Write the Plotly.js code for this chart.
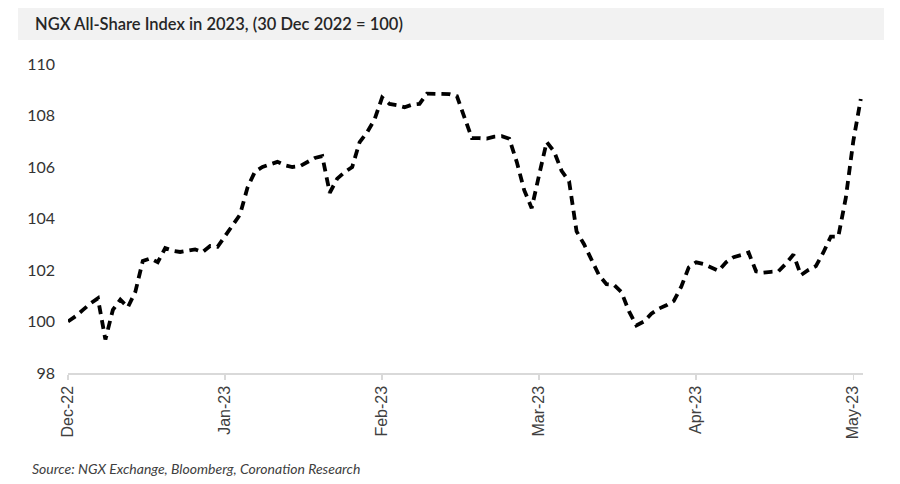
<!DOCTYPE html>
<html>
<head>
<meta charset="utf-8">
<script src="https://cdn.plot.ly/plotly-3.0.1.min.js"></script>
<style>
  html, body { margin: 0; padding: 0; background: #ffffff; }
  #chart { width: 900px; height: 484px; }
</style>
</head>
<body>
<div id="chart"></div>
<script>
// NGX All-Share Index rebased, one value per trading day from 30 Dec 2022
const indexValues = [
  100.0, 100.2, 100.45, 100.7, 100.9, 99.3, 100.45, 100.85, 100.55, 101.15,
  102.35, 102.45, 102.3, 102.85, 102.75, 102.7, 102.75, 102.8, 102.7, 102.93,
  102.9, 103.3, 103.7, 104.15, 105.2, 105.82, 106.0, 106.1, 106.2, 106.07,
  106.0, 106.03, 106.2, 106.35, 106.42, 105.0, 105.55, 105.8, 106.0, 106.97,
  107.35, 107.85, 108.7, 108.45, 108.4, 108.32, 108.42, 108.45, 108.85, 108.85,
  108.83, 108.83, 108.75, 107.95, 107.12, 107.12, 107.1, 107.18, 107.2, 107.1,
  106.2, 105.1, 104.4, 105.7, 106.97, 106.6, 105.85, 105.45, 103.5, 103.0,
  102.4, 101.8, 101.45, 101.42, 101.14, 100.4, 99.85, 100.0, 100.3, 100.5,
  100.63, 100.8, 101.35, 102.1, 102.3, 102.23, 102.1, 101.97, 102.3, 102.5,
  102.58, 102.68, 101.95, 101.9, 101.93, 101.95, 102.25, 102.6, 101.8, 102.0,
  102.15, 102.68, 103.3, 103.3, 104.8, 107.0, 108.64
];
const tradingDay = indexValues.map((v, i) => i);

const tickPositions = [0, 21, 42, 63, 84, 105];
const tickLabels = ["Dec-22", "Jan-23", "Feb-23", "Mar-23", "Apr-23", "May-23"];

const line = {
  x: tradingDay,
  y: indexValues,
  type: 'scatter',
  mode: 'lines',
  line: { color: '#000000', width: 3.8, dash: '9px,6px', shape: 'linear' },
  hoverinfo: 'skip'
};

const layout = {
  width: 900,
  height: 484,
  margin: { l: 68, r: 37, t: 64, b: 111 },
  paper_bgcolor: '#ffffff',
  plot_bgcolor: '#ffffff',
  showlegend: false,
  title: {
    text: 'NGX All-Share Index in 2023, (30 Dec 2022 = 100)',
    x: 35 / 900,
    xanchor: 'left',
    y: 1 - 24 / 484,
    yanchor: 'middle',
    font: { family: 'Lato', size: 16.5, color: '#262626', weight: 600 }
  },
  xaxis: {
    range: [0, 106.3],
    tickmode: 'array',
    tickvals: tickPositions,
    ticktext: tickLabels,
    tickangle: -90,
    ticks: 'outside',
    ticklen: 5,
    tickcolor: '#d9d9d9',
    tickwidth: 1.5,
    showline: true,
    linecolor: '#d9d9d9',
    linewidth: 1.5,
    showgrid: false,
    zeroline: false,
    fixedrange: true,
    tickfont: { family: 'Liberation Sans, Arial', size: 16, color: '#404040' }
  },
  yaxis: {
    range: [98, 110],
    tickmode: 'array',
    tickvals: [98, 100, 102, 104, 106, 108, 110],
    ticks: '',
    ticklabelstandoff: 12,
    showline: false,
    showgrid: false,
    zeroline: false,
    fixedrange: true,
    tickfont: { family: 'Lato', size: 16, color: '#333333' }
  },
  shapes: [{
    type: 'rect',
    xref: 'paper', yref: 'paper',
    x0: (18 - 68) / 795, x1: (884 - 68) / 795,
    y0: (373 - 40) / 309, y1: (373 - 8) / 309,
    fillcolor: '#f2f2f2',
    line: { width: 0 },
    layer: 'below'
  }],
  annotations: [{
    text: '<i>Source: NGX Exchange, Bloomberg, Coronation Research</i>',
    xref: 'paper', yref: 'paper',
    x: (30 - 68) / 795, xanchor: 'left',
    y: (373 - 468) / 309, yanchor: 'middle',
    showarrow: false,
    font: { family: 'Lato', size: 14, color: '#404040' }
  }]
};

Plotly.newPlot('chart', [line], layout, { displayModeBar: false, staticPlot: true });
</script>
</body>
</html>
